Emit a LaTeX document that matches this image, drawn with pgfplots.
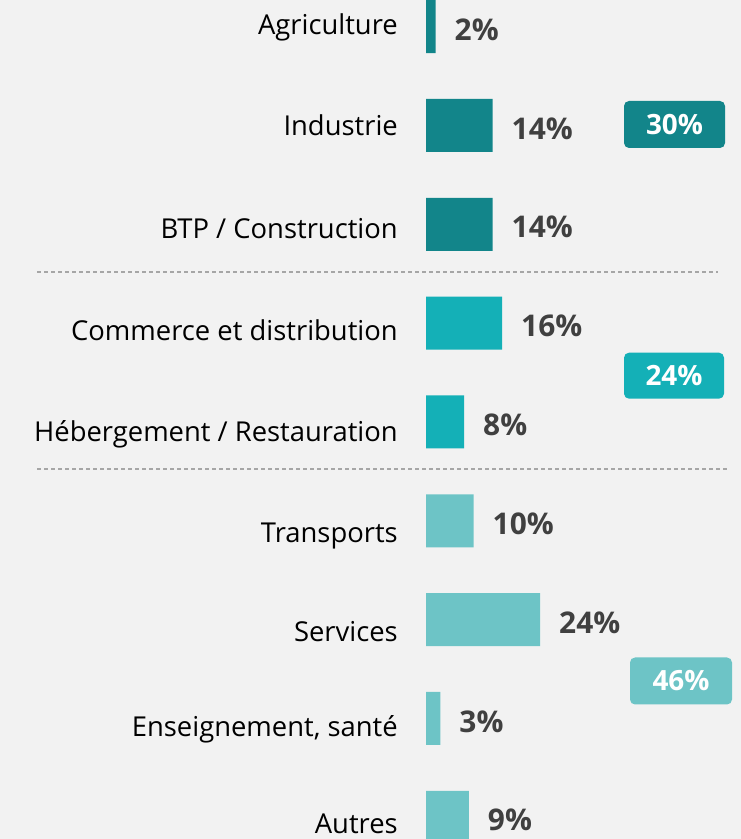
\documentclass[border=0pt]{standalone}
\usepackage{pgfplots}
\pgfplotsset{compat=1.18}
\usepackage{fontspec}
\setmainfont{Open Sans}
\definecolor{bg}{HTML}{F2F2F2}
\definecolor{c1}{HTML}{12858A}
\definecolor{c2}{HTML}{14B0B7}
\definecolor{c3}{HTML}{6DC4C6}
\definecolor{vtxt}{HTML}{404040}
\definecolor{dashgray}{HTML}{A6A6A6}
\begin{document}
\begin{tikzpicture}[x=1bp,y=1bp]
\fill[bg] (0,0) rectangle (741,839);
\begin{axis}[
  at={(426bp,0bp)}, anchor=south west,
  width=315bp, height=839bp, scale only axis,
  xmin=0, xmax=66.3, ymin=-0.27, ymax=8.22, y dir=reverse,
  xbar, bar width=53bp, bar shift=0pt,
  axis line style={draw=none}, xtick=\empty,
  ytick={0.077,1.106,2.142,3.171,4.200,5.223,6.218,7.186,8.164},
  yticklabels={Agriculture, Industrie, BTP / Construction, Commerce et distribution, Hébergement / Restauration, Transports, Services, {Enseignement, santé}, Autres},
  major tick length=0pt,
  yticklabel style={anchor=base east, font=\fontsize{27.5}{32}\selectfont, inner sep=0pt, xshift=-28bp, text=black},
  /pgf/number format/assume math mode=true,
  point meta=x,
  nodes near coords={\pgfmathprintnumber{\pgfplotspointmeta}\%},
  nodes near coords style={anchor=base west, inner sep=0pt, xshift=19bp, yshift=-13.6bp, font=\bfseries\fontsize{30}{34}\selectfont, text=vtxt},
]
\addplot[fill=c1, draw=none] coordinates {(2,0) (14,1) (14,2)};
\addplot[fill=c2, draw=none] coordinates {(16,3) (8,4)};
\addplot[fill=c3, draw=none] coordinates {(10,5) (24,6) (3,7) (9,8)};
\end{axis}
\draw[dashgray, line width=1.3bp, dash pattern=on 4bp off 3bp] (37,567) -- (718,567);
\draw[dashgray, line width=1.3bp, dash pattern=on 4bp off 3bp] (37,370) -- (730,370);
\node[fill=c1, rounded corners=5bp, minimum width=101bp, minimum height=47bp, inner sep=0pt, text=white, font=\bfseries\fontsize{28}{32}\selectfont] at (674.5,714.5) {30\%};
\node[fill=c2, rounded corners=5bp, minimum width=100bp, minimum height=46bp, inner sep=0pt, text=white, font=\bfseries\fontsize{28}{32}\selectfont] at (674,463.3) {24\%};
\node[fill=c3, rounded corners=5bp, minimum width=102bp, minimum height=47bp, inner sep=0pt, text=white, font=\bfseries\fontsize{28}{32}\selectfont] at (681,158) {46\%};
\pgfresetboundingbox
\path (0,0) rectangle (741,839);
\end{tikzpicture}
\end{document}
